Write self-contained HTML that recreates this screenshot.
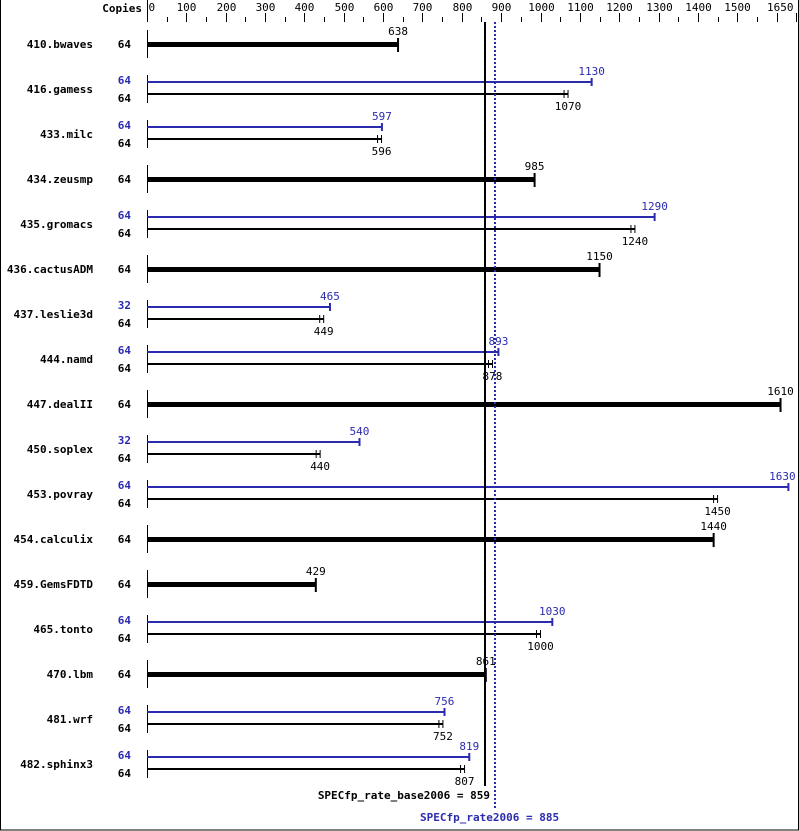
<!DOCTYPE html>
<html><head><meta charset="utf-8"><style>
html,body{margin:0;padding:0;background:#fff;}
svg{display:block;}
text{font-family:"DejaVu Sans Mono","Liberation Mono",monospace;font-size:11px;}
.b{font-weight:bold;}
</style></head><body>
<svg id="s" width="799" height="831" xmlns="http://www.w3.org/2000/svg"></svg>
<script>
const s=document.getElementById('s');
let h='';
const X=v=>147+v*0.3935;
const L=(x,t)=>Math.min(x,796-t.length*3.4);
h+='<rect x="0.5" y="-1" width="798" height="831" fill="none" stroke="#000"/>';
h+='<text x="142" y="12" text-anchor="end" class="b">Copies</text>';
h+='<line x1="147.5" y1="0" x2="147.5" y2="22" stroke="#000"/>';
for(let v=0;v<=1650;v+=50){
  const x=Math.round(X(v))+0.5;
  if(v%100==0){h+=`<line x1="${x}" y1="13" x2="${x}" y2="22" stroke="#000"/>`;
    if(v<1600) h+=`<text x="${v==0?x+1:x}" y="11" text-anchor="${v==0?'start':'middle'}">${v}</text>`;}
  else h+=`<line x1="${x}" y1="17" x2="${x}" y2="22" stroke="#000"/>`;
}
{const x=Math.round(X(1650))+0.5;h+=`<line x1="${x}" y1="13" x2="${x}" y2="22" stroke="#000"/><text x="${x-3}" y="11" text-anchor="end">1650</text>`;}
const rows=[
["410.bwaves",[64,638]],
["416.gamess",[64,1130],[64,1070]],
["433.milc",[64,597],[64,596]],
["434.zeusmp",[64,985]],
["435.gromacs",[64,1290],[64,1240]],
["436.cactusADM",[64,1150]],
["437.leslie3d",[32,465],[64,449]],
["444.namd",[64,893],[64,878]],
["447.dealII",[64,1610]],
["450.soplex",[32,540],[64,440]],
["453.povray",[64,1630],[64,1450]],
["454.calculix",[64,1440]],
["459.GemsFDTD",[64,429]],
["465.tonto",[64,1030],[64,1000]],
["470.lbm",[64,861]],
["481.wrf",[64,756],[64,752]],
["482.sphinx3",[64,819],[64,807]]];
rows.forEach((r,i)=>{
  const c=44+i*45;
  h+=`<text x="93" y="${c+4}" text-anchor="end" class="b">${r[0]}</text>`;
  if(r.length==2){
    const [cp,v]=r[1],x=X(v);
    h+=`<line x1="147.5" y1="${c-14}" x2="147.5" y2="${c+14}" stroke="#000"/>`;
    h+=`<text x="131" y="${c+4}" text-anchor="end" class="b">${cp}</text>`;
    h+=`<rect x="147" y="${c-2}" width="${x-147}" height="5" fill="#000"/>`;
    h+=`<line x1="${x}" y1="${c-6}" x2="${x}" y2="${c+8}" stroke="#000" stroke-width="2"/>`;
    h+=`<text x="${L(x,String(v))}" y="${c-9}" text-anchor="middle">${v}</text>`;
  } else {
    const yb=c-7,yk=c+5;
    h+=`<line x1="147.5" y1="${c-14}" x2="147.5" y2="${c+14}" stroke="#000"/>`;
    h+=`<text x="131" y="${yb+2}" text-anchor="end" class="b" fill="#2b2bb0">${r[1][0]}</text>`;
    h+=`<text x="131" y="${yk+8}" text-anchor="end" class="b">${r[2][0]}</text>`;
    let x=X(r[1][1]);
    h+=`<rect x="147" y="${yb-1}" width="${x-147}" height="2" fill="#2b2bb0"/>`;
    h+=`<line x1="${x}" y1="${yb-4}" x2="${x}" y2="${yb+4}" stroke="#2b2bb0" stroke-width="2"/>`;
    h+=`<text x="${L(x,String(r[1][1]))}" y="${yb-7}" text-anchor="middle" fill="#2b2bb0">${r[1][1]}</text>`;
    x=X(r[2][1]);
    h+=`<rect x="147" y="${yk-1}" width="${x-147}" height="2" fill="#000"/>`;
    h+=`<line x1="${x}" y1="${yk-4}" x2="${x}" y2="${yk+4}" stroke="#000"/>`;
    h+=`<line x1="${x-4}" y1="${yk-4}" x2="${x-4}" y2="${yk+4}" stroke="#000"/>`;
    h+=`<text x="${L(x,String(r[2][1]))}" y="${yk+16}" text-anchor="middle">${r[2][1]}</text>`;
  }
});
h+=`<line x1="485" y1="22" x2="485" y2="786" stroke="#000" stroke-width="2"/>`;
h+=`<line x1="495" y1="22" x2="495" y2="808" stroke="#2b2bb0" stroke-width="2" stroke-dasharray="2,2"/>`;
h+=`<text x="490" y="799" text-anchor="end" class="b">SPECfp_rate_base2006 = 859</text>`;
h+=`<text x="420" y="821" class="b" fill="#2b2bb0">SPECfp_rate2006 = 885</text>`;
s.innerHTML=h;
</script>
</body></html>
